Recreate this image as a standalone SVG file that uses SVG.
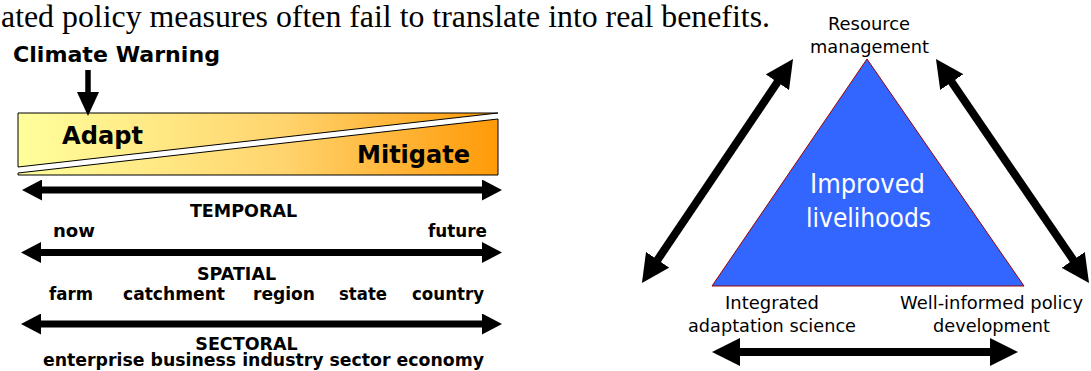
<svg xmlns="http://www.w3.org/2000/svg" width="1091" height="371" viewBox="0 0 1091 371">
  <style>
    .serif { font-family: "Liberation Serif", "Times New Roman", serif; fill: #000; }
    .bold { font-family: "DejaVu Sans", Verdana, sans-serif; font-weight: bold; fill: #000; }
    .reg { font-family: "DejaVu Sans", Verdana, sans-serif; fill: #000; }
    .mid { text-anchor: middle; }
    .shaft { stroke: #000; fill: none; }
    .box { stroke: #000; stroke-width: 1; fill: url(#grad); }
  </style>
  <defs>
    <linearGradient id="grad" gradientUnits="userSpaceOnUse" x1="18" y1="0" x2="498" y2="0">
      <stop offset="0" stop-color="#FFFF9C"/>
      <stop offset="0.55" stop-color="#FFD46E"/>
      <stop offset="1" stop-color="#FF9A08"/>
    </linearGradient>
    <marker id="headS" markerUnits="userSpaceOnUse" markerWidth="20" markerHeight="21" refX="8" refY="10.5" orient="auto-start-reverse">
      <path d="M0,0 L20,10.5 L0,21 z" fill="#000"/>
    </marker>
    <marker id="headL" markerUnits="userSpaceOnUse" markerWidth="28" markerHeight="28" refX="12" refY="14" orient="auto-start-reverse">
      <path d="M0,0 L28,14 L0,28 z" fill="#000"/>
    </marker>
    <marker id="headD" markerUnits="userSpaceOnUse" markerWidth="24" markerHeight="22" refX="8" refY="11" orient="auto">
      <path d="M0,0 L24,11 L0,22 z" fill="#000"/>
    </marker>
  </defs>

  <text class="serif" x="1" y="27" font-size="31" textLength="769" lengthAdjust="spacingAndGlyphs">ated policy measures often fail to translate into real benefits.</text>

  <g id="climate-warning">
    <text class="bold" x="13" y="62" font-size="22" textLength="207" lengthAdjust="spacingAndGlyphs">Climate Warning</text>
  </g>

  <g id="adapt-mitigate">
    <polygon class="box" points="18,113 498,113 18,167"/>
    <polygon class="box" points="18,173 498,119 498,175 18,175"/>
    <text class="bold" x="62" y="144" font-size="24" textLength="81" lengthAdjust="spacingAndGlyphs">Adapt</text>
    <text class="bold" x="357" y="163" font-size="24" textLength="113" lengthAdjust="spacingAndGlyphs">Mitigate</text>
  </g>

  <g id="temporal">
    <text class="bold mid" x="243.5" y="216.5" font-size="17.5">TEMPORAL</text>
    <text class="bold" x="53" y="236.5" font-size="17.5" textLength="42" lengthAdjust="spacingAndGlyphs">now</text>
    <text class="bold" x="428" y="236.5" font-size="17.5" textLength="59" lengthAdjust="spacingAndGlyphs">future</text>
  </g>

  <g id="spatial">
    <text class="bold mid" x="236.5" y="279.5" font-size="17.5">SPATIAL</text>
    <text class="bold" x="49" y="300" font-size="17.5" textLength="44" lengthAdjust="spacingAndGlyphs">farm</text>
    <text class="bold" x="123" y="300" font-size="17.5" textLength="102" lengthAdjust="spacingAndGlyphs">catchment</text>
    <text class="bold" x="253" y="300" font-size="17.5" textLength="62" lengthAdjust="spacingAndGlyphs">region</text>
    <text class="bold" x="339" y="300" font-size="17.5" textLength="48" lengthAdjust="spacingAndGlyphs">state</text>
    <text class="bold" x="412" y="300" font-size="17.5" textLength="72" lengthAdjust="spacingAndGlyphs">country</text>
  </g>

  <g id="sectoral">
    <text class="bold mid" x="246.5" y="350" font-size="17.5">SECTORAL</text>
    <text class="bold" x="43" y="366" font-size="17.5" textLength="441" lengthAdjust="spacingAndGlyphs">enterprise business industry sector economy</text>
  </g>

  <g id="livelihoods">
    <polygon points="867,59 712,286 1024,286" fill="#3366FF" stroke="#990000" stroke-width="1"/>
    <text class="reg mid" x="867.5" y="193" font-size="26" fill="#FFFFFF" style="fill:#FFFFFF" textLength="115" lengthAdjust="spacingAndGlyphs">Improved</text>
    <text class="reg mid" x="868.5" y="226.5" font-size="26" style="fill:#FFFFFF" textLength="125" lengthAdjust="spacingAndGlyphs">livelihoods</text>
  </g>

  <g id="resource-management">
    <text class="reg mid" x="869" y="29.5" font-size="18.5" textLength="82" lengthAdjust="spacingAndGlyphs">Resource</text>
    <text class="reg mid" x="869.5" y="53" font-size="18.5" textLength="119" lengthAdjust="spacingAndGlyphs">management</text>
  </g>

  <g id="adaptation-science">
    <text class="reg mid" x="772" y="308.5" font-size="18.5" textLength="94" lengthAdjust="spacingAndGlyphs">Integrated</text>
    <text class="reg mid" x="772" y="331.5" font-size="18.5" textLength="168" lengthAdjust="spacingAndGlyphs">adaptation science</text>
  </g>

  <g id="policy-development">
    <text class="reg mid" x="991.5" y="308.5" font-size="18.5" textLength="183" lengthAdjust="spacingAndGlyphs">Well-informed policy</text>
    <text class="reg mid" x="991.5" y="331.5" font-size="18.5" textLength="117" lengthAdjust="spacingAndGlyphs">development</text>
  </g>

  <g id="connectors">
    <line class="shaft" x1="88" y1="70" x2="88" y2="100" stroke-width="5.5" marker-end="url(#headD)"/>
    <line class="shaft" x1="34" y1="190" x2="490" y2="190" stroke-width="7" marker-start="url(#headS)" marker-end="url(#headS)"/>
    <line class="shaft" x1="33" y1="252.5" x2="490" y2="252.5" stroke-width="7" marker-start="url(#headS)" marker-end="url(#headS)"/>
    <line class="shaft" x1="33" y1="324" x2="490" y2="324" stroke-width="7" marker-start="url(#headS)" marker-end="url(#headS)"/>
    <line class="shaft" x1="728" y1="352" x2="1002" y2="352" stroke-width="8" marker-start="url(#headL)" marker-end="url(#headL)"/>
    <line class="shaft" x1="784.1" y1="72.3" x2="650.9" y2="269.7" stroke-width="8" marker-start="url(#headL)" marker-end="url(#headL)"/>
    <line class="shaft" x1="945" y1="72.2" x2="1080" y2="269.8" stroke-width="8" marker-start="url(#headL)" marker-end="url(#headL)"/>
  </g>
</svg>
